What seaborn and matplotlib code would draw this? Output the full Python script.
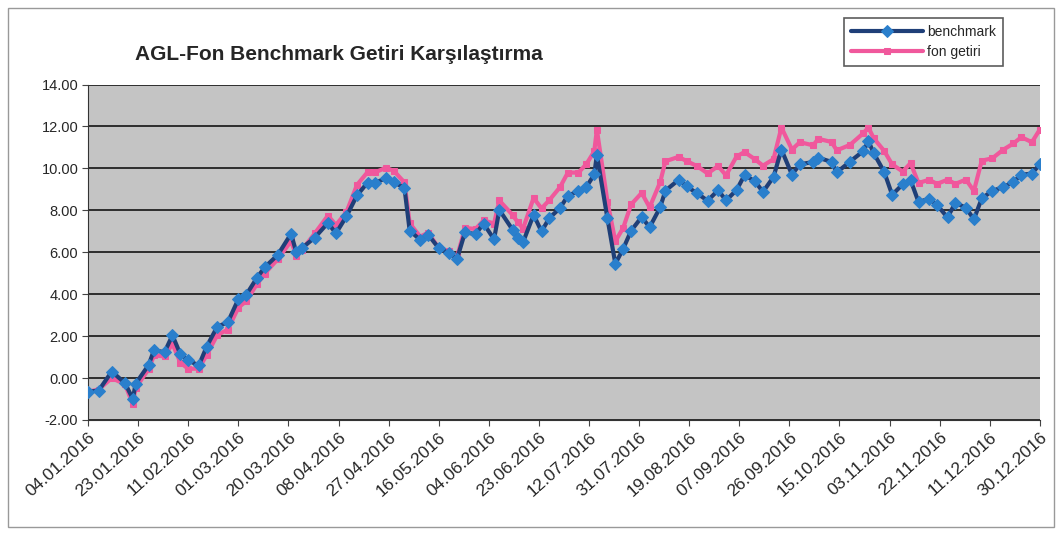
import numpy as np
import pandas as pd
import matplotlib
matplotlib.use("Agg")
import matplotlib.pyplot as plt
import matplotlib.dates as mdates
import seaborn as sns

# dates of the readings (dd.mm.2016)
tarih = ["04.01", "08.01", "13.01", "18.01", "21.01", "22.01", "27.01", "29.01", "02.02", "05.02",
         "08.02", "11.02", "15.02", "18.02", "22.02", "26.02", "01.03", "04.03", "08.03", "11.03",
         "16.03", "21.03", "23.03", "25.03", "30.03", "04.04", "07.04", "11.04", "15.04", "19.04",
         "22.04", "26.04", "29.04", "03.05", "05.05", "09.05", "12.05", "16.05", "20.05", "23.05",
         "26.05", "30.05", "02.06", "06.06", "08.06", "13.06", "15.06", "17.06", "21.06", "24.06",
         "27.06", "01.07", "04.07", "08.07", "11.07", "14.07", "15.07", "19.07", "22.07", "25.07",
         "28.07", "01.08", "04.08", "08.08", "10.08", "15.08", "18.08", "22.08", "26.08", "30.08",
         "02.09", "06.09", "09.09", "13.09", "16.09", "20.09", "23.09", "27.09", "30.09", "05.10",
         "07.10", "12.10", "14.10", "19.10", "24.10", "26.10", "28.10", "01.11", "04.11", "08.11",
         "11.11", "14.11", "18.11", "21.11", "25.11", "28.11", "02.12", "05.12", "08.12", "12.12",
         "16.12", "20.12", "23.12", "27.12", "30.12"]

benchmark = [-0.65, -0.60, 0.31, -0.24, -1.00, -0.28, 0.63, 1.33, 1.23, 2.04,
             1.14, 0.84, 0.60, 1.50, 2.45, 2.66, 3.76, 3.97, 4.77, 5.28,
             5.88, 6.88, 5.99, 6.19, 6.70, 7.40, 6.90, 7.71, 8.71, 9.32,
             9.32, 9.53, 9.33, 9.08, 7.03, 6.59, 6.84, 6.20, 5.95, 5.70,
             6.96, 6.86, 7.37, 6.62, 8.02, 7.08, 6.68, 6.48, 7.79, 6.99,
             7.64, 8.10, 8.70, 8.91, 9.11, 9.71, 10.65, 7.62, 5.45, 6.17,
             7.03, 7.68, 7.19, 8.14, 8.94, 9.45, 9.15, 8.81, 8.46, 8.96,
             8.47, 8.97, 9.68, 9.38, 8.88, 9.59, 10.90, 9.70, 10.20, 10.30,
             10.51, 10.31, 9.81, 10.32, 10.82, 11.30, 10.73, 9.83, 8.74, 9.24,
             9.44, 8.40, 8.55, 8.26, 7.66, 8.36, 8.12, 7.57, 8.57, 8.93,
             9.10, 9.35, 9.70, 9.75, 10.20]

fon_getiri = [-0.65, -0.55, 0.00, -0.30, -1.25, -0.48, 0.43, 1.08, 1.03, 1.64,
              0.74, 0.44, 0.45, 1.10, 2.05, 2.31, 3.36, 3.67, 4.47, 4.98,
              5.68, 6.53, 5.84, 6.09, 6.90, 7.75, 7.30, 7.91, 9.21, 9.82,
              9.82, 10.03, 9.88, 9.33, 7.38, 6.74, 6.94, 6.20, 6.05, 5.80,
              7.16, 7.11, 7.52, 7.37, 8.47, 7.78, 7.43, 7.13, 8.59, 8.09,
              8.49, 9.10, 9.80, 9.80, 10.20, 10.81, 11.85, 8.42, 6.52, 7.17,
              8.28, 8.83, 8.14, 9.34, 10.34, 10.55, 10.35, 10.11, 9.76, 10.11,
              9.67, 10.57, 10.78, 10.43, 10.13, 10.44, 11.95, 10.90, 11.25, 11.10,
              11.41, 11.26, 10.86, 11.12, 11.67, 11.95, 11.44, 10.83, 10.19, 9.85,
              10.25, 9.30, 9.46, 9.26, 9.46, 9.26, 9.47, 8.92, 10.37, 10.48,
              10.88, 11.19, 11.49, 11.25, 11.85]

y_ticks = [-2, 0, 2, 4, 6, 8, 10, 12, 14]

df = pd.DataFrame({
    "tarih": pd.to_datetime([t + ".2016" for t in tarih], format="%d.%m.%Y"),
    "benchmark": benchmark,
    "fon getiri": fon_getiri,
})

sns.set_style("white")
plt.rcParams["font.family"] = ["Liberation Sans", "DejaVu Sans"]

fig = plt.figure(figsize=(10.61, 5.35), dpi=100)
ax = fig.add_axes([0.083, 0.215, 0.897, 0.627])
ax.set_facecolor("#c4c4c4")

sns.lineplot(data=df, x="tarih", y="benchmark", ax=ax, color="#1f3f78", lw=3,
             marker="D", markersize=6, markerfacecolor="#2a7fcc", markeredgecolor="#2a7fcc",
             label="benchmark", zorder=3)
sns.lineplot(data=df, x="tarih", y="fon getiri", ax=ax, color="#f0589c", lw=3,
             marker="s", markersize=4.5, markerfacecolor="#f0589c", markeredgecolor="#f0589c",
             label="fon getiri", zorder=2)

start = pd.Timestamp("2016-01-04")
ticks = [start + pd.Timedelta(days=19 * i) for i in range(20)]
ax.set_xlim(start, pd.Timestamp("2016-12-30"))
ax.set_xticks(ticks)
ax.xaxis.set_major_formatter(mdates.DateFormatter("%d.%m.%Y"))
plt.setp(ax.get_xticklabels(), rotation=42, ha="right", rotation_mode="anchor", fontsize=12.5)

ax.set_ylim(-2, 14)
ax.set_yticks(y_ticks)
ax.set_yticklabels(["%.2f" % v for v in y_ticks], fontsize=10.5)
ax.yaxis.grid(True, color="#222222", lw=1.3)
ax.xaxis.grid(False)
ax.set_xlabel("")
ax.set_ylabel("")
ax.tick_params(axis="both", length=4, color="#444444", pad=3)
ax.tick_params(axis="y", left=True)
ax.tick_params(axis="x", bottom=True)
for side in ["top", "right"]:
    ax.spines[side].set_visible(False)
ax.spines["left"].set_color("#333333")
ax.spines["bottom"].set_color("#333333")

ax.get_legend().remove()
handles, labels = ax.get_legend_handles_labels()
leg = fig.legend(handles, labels, loc="upper left", bbox_to_anchor=(0.793, 0.972),
                 frameon=True, fancybox=False, edgecolor="#333333", fontsize=10,
                 handlelength=5.2, handletextpad=0.3, borderpad=0.5, labelspacing=0.45,
                 borderaxespad=0.2)
leg.get_frame().set_linewidth(1.2)

fig.text(0.127, 0.898, "AGL-Fon Benchmark Getiri Karşılaştırma", fontsize=15,
         fontweight="bold", ha="left", va="center")

# outer chart border
fig.patches.append(plt.Rectangle((0.008, 0.015), 0.985, 0.97, transform=fig.transFigure,
                                 fill=False, edgecolor="#999999", lw=1.0))

fig.savefig("out.png", dpi=100, facecolor="white")
